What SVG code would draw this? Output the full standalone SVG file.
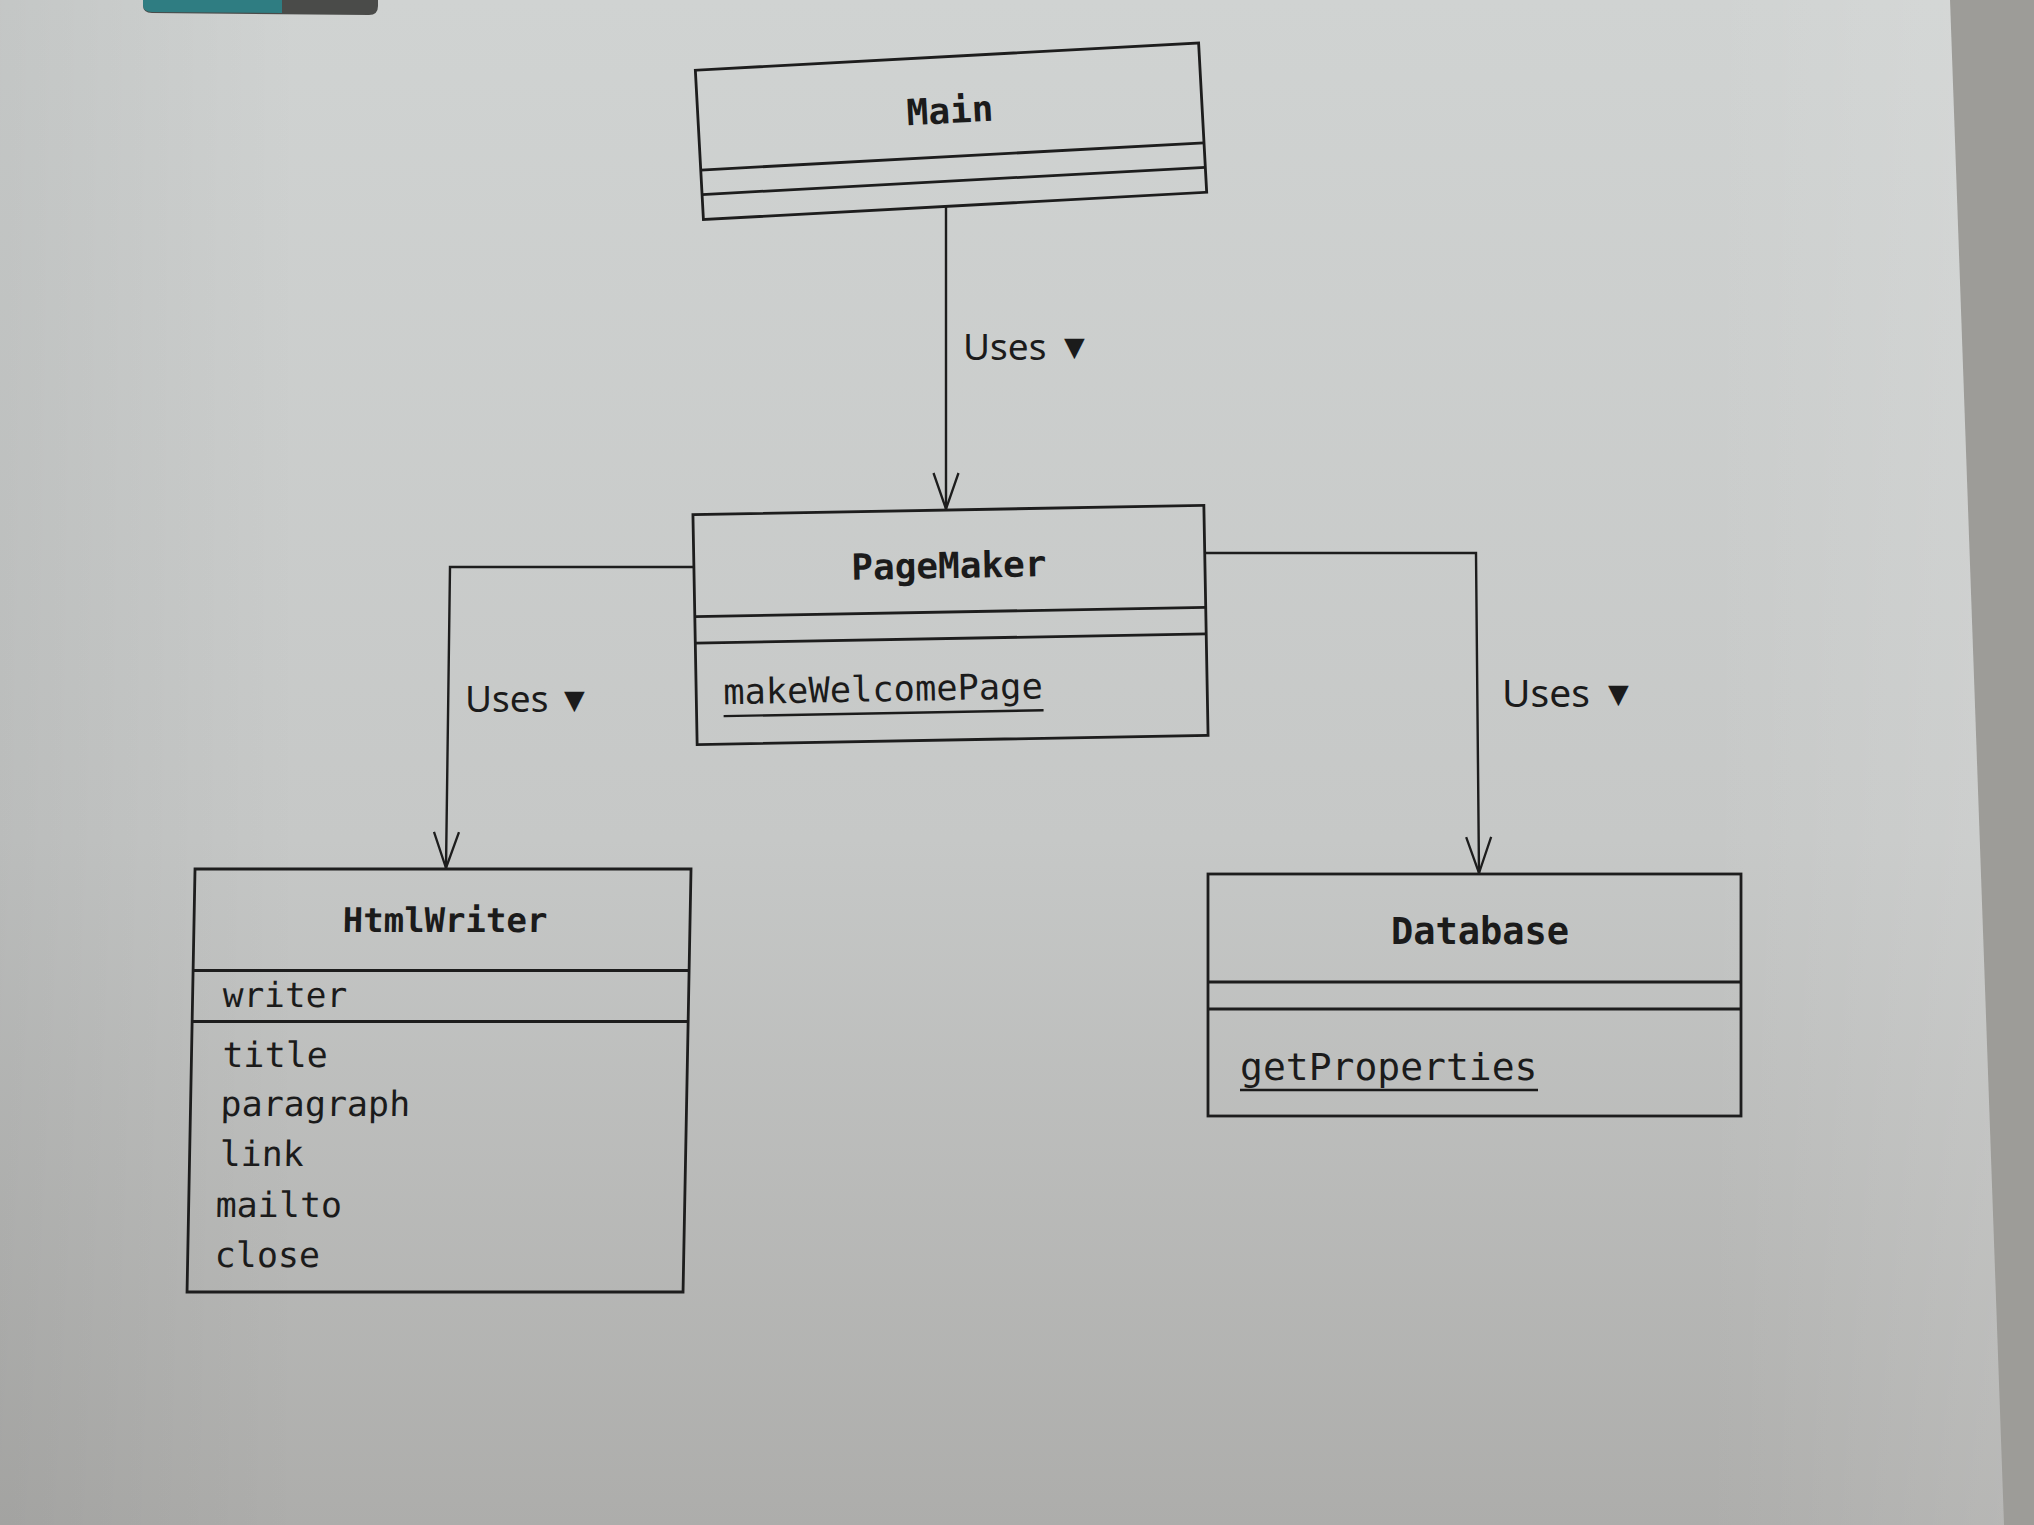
<svg xmlns="http://www.w3.org/2000/svg" width="2034" height="1525" viewBox="0 0 2034 1525">
<defs>
<linearGradient id="paper" x1="0" y1="0" x2="0" y2="1">
<stop offset="0" stop-color="#d0d3d2"/>
<stop offset="0.55" stop-color="#c6c8c7"/>
<stop offset="1" stop-color="#adadab"/>
</linearGradient>
<linearGradient id="side" x1="0" y1="0" x2="1" y2="0">
<stop offset="0" stop-color="#000" stop-opacity="0.06"/>
<stop offset="0.15" stop-color="#000" stop-opacity="0"/>
<stop offset="0.85" stop-color="#fff" stop-opacity="0"/>
<stop offset="1" stop-color="#fff" stop-opacity="0.12"/>
</linearGradient>
<marker id="open" viewBox="0 0 38 28" refX="37" refY="14" markerWidth="38" markerHeight="28" markerUnits="userSpaceOnUse" orient="auto">
<path d="M1,1.5 L37,14 L1,26.5" fill="none" stroke="#1d1d1d" stroke-width="2.3"/>
</marker>
<style>
.box{fill:none;stroke:#1d1d1d;stroke-width:2.8}
.sep{stroke:#1d1d1d;stroke-width:2.8}
.name{font-family:"DejaVu Sans Mono","Liberation Mono",monospace;font-weight:bold;fill:#1b1b1b;text-anchor:middle}
.mem{font-family:"DejaVu Sans Mono","Liberation Mono",monospace;fill:#1b1b1b}
.ul{stroke:#1b1b1b;stroke-width:2.4}
.lbl{font-family:"Noto Sans","Open Sans",sans-serif;fill:#1b1b1b;font-size:37px}
.tri{font-family:"DejaVu Sans",sans-serif;font-size:27px}
.conn{fill:none;stroke:#1d1d1d;stroke-width:2.4}
</style>
</defs>
<rect width="2034" height="1525" fill="#9d9c98"/>
<polygon points="0,0 1950,0 2004,1525 0,1525" fill="url(#paper)"/>
<polygon points="0,0 1950,0 2004,1525 0,1525" fill="url(#side)"/>
<path d="M143,0 L378,0 L378,6 Q378,15 369,15 L152,13 Q143,13 143,5 Z" fill="#4a4b49"/>
<path d="M143,0 L282,0 L282,13 L152,12 Q143,12 143,5 Z" fill="#2f7d82"/>

<g id="connectors">
<line class="conn" x1="946" y1="207" x2="946" y2="509" marker-end="url(#open)"/>
<polyline class="conn" points="695,567 450,567 446,868" marker-end="url(#open)"/>
<polyline class="conn" points="1206,553 1476,553 1479,873" marker-end="url(#open)"/>
<text class="lbl" x="963" y="360">Uses<tspan class="tri" x="1064" y="356">▼</tspan></text>
<text class="lbl" x="465" y="712">Uses<tspan class="tri" x="564" y="709">▼</tspan></text>
<text class="lbl" x="1502" y="707" style="font-size:39px">Uses<tspan class="tri" x="1608" y="703">▼</tspan></text>
</g>

<g id="Main" transform="rotate(-3.1 951 131)">
<rect class="box" x="699" y="56.5" width="504" height="149.5"/>
<line class="sep" x1="699" y1="156.5" x2="1203" y2="156.5"/>
<line class="sep" x1="699" y1="181" x2="1203" y2="181"/>
<text class="name" x="951" y="123" font-size="36">Main</text>
</g>

<g id="PageMaker" transform="rotate(-1.05 950 625)">
<rect class="box" x="695" y="510" width="511" height="230"/>
<line class="sep" x1="695" y1="612" x2="1206" y2="612"/>
<line class="sep" x1="695" y1="638.5" x2="1206" y2="638.5"/>
<text class="name" x="950" y="578" font-size="36">PageMaker</text>
<text class="mem" x="722" y="700" font-size="35.4">makeWelcomePage</text>
<line class="ul" x1="722" y1="712" x2="1042" y2="712"/>
</g>

<g id="HtmlWriter" transform="translate(16.4 0) skewX(-1.08)">
<rect class="box" x="195" y="869" width="496" height="423"/>
<line class="sep" x1="195" y1="970.5" x2="691" y2="970.5"/>
<line class="sep" x1="195" y1="1021.5" x2="691" y2="1021.5"/>
<text class="name" x="446" y="932" font-size="34">HtmlWriter</text>
<text class="mem" x="225" y="1007" font-size="34.5">writer</text>
<text class="mem" x="226" y="1067" font-size="35">title</text>
<text class="mem" x="225" y="1116" font-size="35">paragraph</text>
<text class="mem" x="225" y="1166" font-size="35">link</text>
<text class="mem" x="222" y="1217" font-size="35">mailto</text>
<text class="mem" x="222" y="1267" font-size="35">close</text>
</g>

<g id="Database">
<rect class="box" x="1208" y="874" width="533" height="242"/>
<line class="sep" x1="1208" y1="982" x2="1741" y2="982"/>
<line class="sep" x1="1208" y1="1009" x2="1741" y2="1009"/>
<text class="name" x="1480" y="944" font-size="37">Database</text>
<text class="mem" x="1240" y="1080" font-size="38">getProperties</text>
<line class="ul" x1="1240" y1="1090" x2="1538" y2="1090"/>
</g>
</svg>
